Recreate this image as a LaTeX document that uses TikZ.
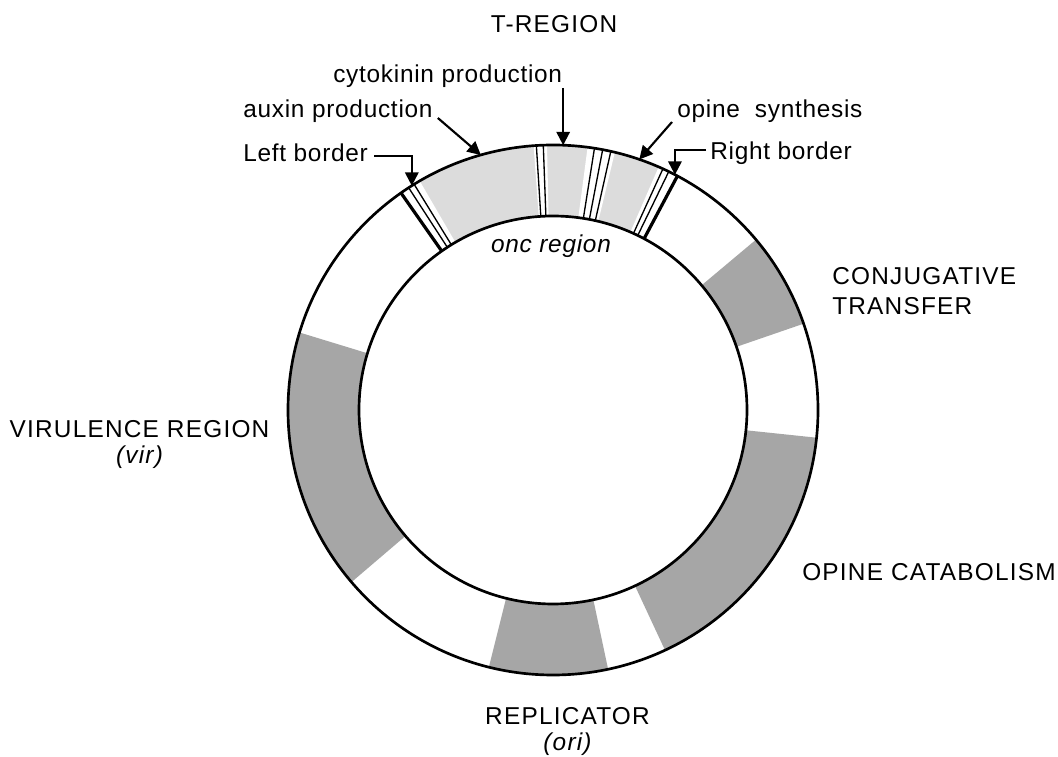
\documentclass[tikz,border=0pt]{standalone}
\usepackage{fontspec}
\usepackage{xcolor}
\usetikzlibrary{arrows.meta,calc}
\setmainfont{Liberation Sans}[LetterSpace=3.0]
\newfontfamily\capsfont{Liberation Sans}[LetterSpace=5.0]
\definecolor{darkseg}{HTML}{A6A6A6}
\definecolor{lightseg}{HTML}{DCDCDC}
\tikzset{
  ring/.style={line width=2pt},
  lbl/.style={font=\fontsize{18.3pt}{19.3pt}\selectfont, inner sep=0pt},
  caps/.style={font=\fontsize{18.3pt}{19.3pt}\selectfont\capsfont, inner sep=0pt},
  thinline/.style={line width=1pt},
  thickline/.style={line width=2.4pt},
  ptr/.style={-{Triangle[length=10pt, width=10pt]}, line width=1.6pt},
}
% annular sector of the plasmid ring: from angle #1 to #2, filled with #3
\newcommand{\ringpart}[3]{%
  \fill[#3, shift={(c)}] (#1:265) arc[start angle=#1, end angle=#2, radius=265]
    -- (#2:194) arc[start angle=#2, end angle=#1, radius=194] -- cycle;}

\begin{document}
\begin{tikzpicture}[x=0.75pt, y=0.75pt]
  \path[use as bounding box, fill=white] (0,0) rectangle (1058,757);
  \coordinate (c) at (553,347);

  % T-region and the other regions
  \ringpart{62}{125}{lightseg}
  \ringpart{19}{40}{darkseg}
  \ringpart{-65}{-6}{darkseg}
  \ringpart{-104}{-78}{darkseg}
  \ringpart{163}{220.5}{darkseg}
  % borders and gaps inside the T-region
  \ringpart{120.2}{125}{white}
  \ringpart{91.3}{94.2}{white}
  \ringpart{76.5}{82.5}{white}
  \ringpart{62}{66.5}{white}
  \foreach \a in {123,121.6,93.6,92.1,81,79.2,77.4,65.5,64.1}
    \draw[thinline, shift={(c)}] (\a:194) -- (\a:265);
  \foreach \a in {125,62}
    \draw[thickline, shift={(c)}] (\a:194) -- (\a:265);
  \draw[ring] (c) circle[radius=265];
  \draw[ring] (c) circle[radius=194];

  % labels
  \node[caps, anchor=base] (treg) at (554,724) {T-REGION};
  \node[lbl, anchor=base west] (cyto) at (333,674) {cytokinin production};
  \node[lbl, anchor=base west] (auxin) at (243,639) {auxin production};
  \node[lbl, anchor=base west] (lb) at (243,595) {Left border};
  \node[lbl, anchor=base west] (os) at (677,639) {opine\ \ synthesis};
  \node[lbl, anchor=base west] (rb) at (710,597) {Right border};
  \node[lbl, anchor=base] (onc) at (551,504) {\itshape onc region};
  \node[caps, anchor=north west, align=left] (conj) at (832,490) {CONJUGATIVE\\[3.5pt]TRANSFER};
  \node[caps, anchor=north, align=center] (vir) at (139.5,337) {VIRULENCE REGION\\\itshape (vir)};
  \node[caps, anchor=base west] (opcat) at (802,176) {OPINE CATABOLISM};
  \node[caps, anchor=north, align=center] (ori) at (567.5,50) {REPLICATOR\\[0.5pt]\itshape (ori)};

  % pointers onto the ring
  \coordinate (auxtip) at ($(c)+(105.8:265)$);
  \coordinate (cytotip) at ($(c)+(87.8:265)$);
  \coordinate (lbtip) at ($(c)+(122.2:265)$);
  \coordinate (ostip) at ($(c)+(71:265)$);
  \coordinate (rbtip) at ($(c)+(62.6:265)$);
  \draw[ptr] ([shift={(5,0)}]auxin.base east) -- (auxtip);
  \draw[ptr] ($(cytotip |- cyto.base)+(0,-5)$) -- (cytotip);
  \draw[ptr] ([shift={(6,-3)}]lb.east) -| (lbtip);
  \draw[ptr] ([shift={(-5,-4)}]os.base west) -- (ostip);
  \draw[ptr] ([shift={(-4,4)}]rb.west) -| (rbtip);
\end{tikzpicture}
\end{document}
